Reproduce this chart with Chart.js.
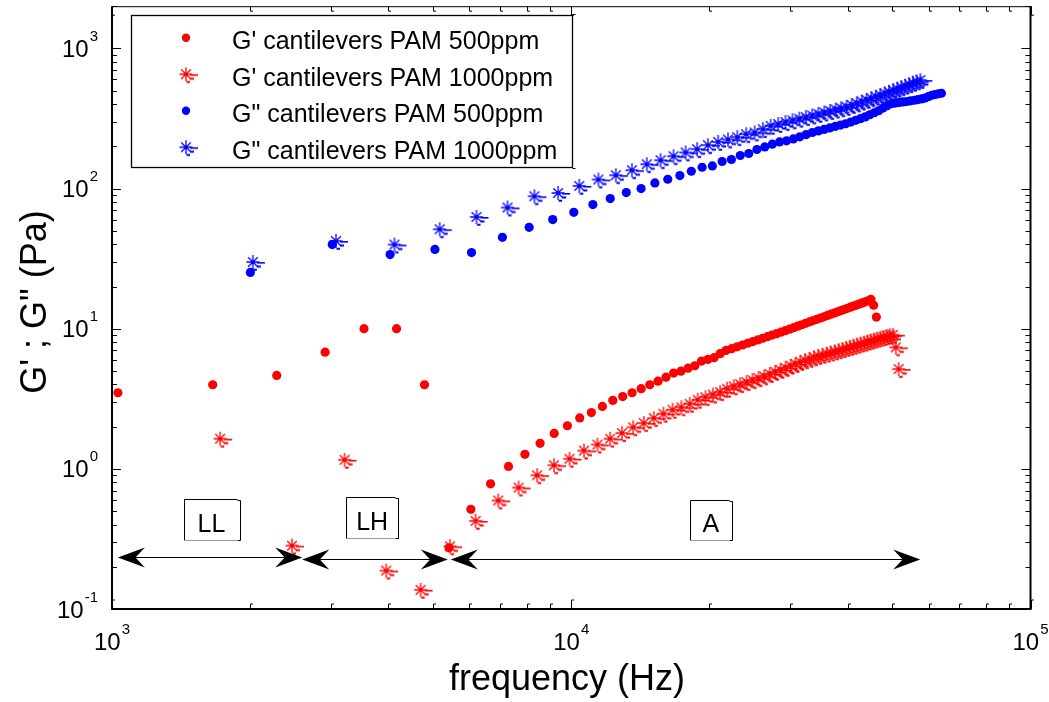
<!DOCTYPE html>
<html><head><meta charset="utf-8">
<style>html,body{margin:0;padding:0;background:#fff;}canvas{display:block;}</style>
<script src="https://cdn.jsdelivr.net/npm/chart.js@4.4.1/dist/chart.umd.min.js"></script>
</head><body>
<canvas id="c" width="1049" height="702" style="width:1049px;height:702px"></canvas>
<script>
// ---------------- data ----------------
const seriesNames = ["G' cantilevers PAM 500ppm", "G' cantilevers PAM 1000ppm", 'G" cantilevers PAM 500ppm', 'G" cantilevers PAM 1000ppm'];
const xTitle = 'frequency (Hz)';
const yTitle = 'G\' ; G" (Pa)';
const xTickExponents = [3, 4, 5];
const yTickExponents = [-1, 0, 1, 2, 3];

const freqGp500 = [1030,1657,2284,2911,3538,4165,4792,5419,6046,6673,7300,7927,8554,9181,9808,10435,11062,11689,12316,12943,13570,14197,14824,15451,16078,16705,17332,17959,18586,19213,19840,20467,21094,21721,22348,22975,23602,24229,24856,25483,26110,26737,27364,27991,28618,29245,29872,30499,31126,31753,32380,33007,33634,34261,34888,35515,36142,36769,37396,38023,38650,39277,39904,40531,41158,41785,42412,43039,43666,44293,44920,45547,46174];
const valGp500 = [3.49,3.98,4.64,6.80,10.0,10.0,3.98,0.273,
  0.514,0.782,1.04,1.27,1.52,1.79,2.03,2.31,
  2.52,2.79,3.08,3.28,3.49,3.73,3.98,4.22,
  4.51,4.82,4.98,5.23,5.44,5.87,6.04,6.21,6.63,7.0,
  7.2,7.43,7.65,7.87,8.09,8.31,8.54,8.77,9.0,9.22,9.45,9.68,
  9.92,10.17,10.42,10.67,10.92,11.17,11.42,11.67,11.92,12.17,
  12.43,12.69,12.94,13.2,13.45,13.71,13.97,14.23,14.49,14.75,
  15.01,15.28,15.54,15.8,16.2,14.7,12.1];

const freqGp1000 = [1720,2465,3210,3955,4700,5445,6190,6935,7680,8425,9170,9915,10660,11405,12150,12895,13640,14385,15130,15875,16620,17365,18110,18855,19600,20345,21090,21835,22580,23325,24070,24815,25560,26305,27050,27795,28540,29285,30030,30775,31520,32265,33010,33755,34500,35245,35990,36735,37480,38225,38970,39715,40460,41205,41950,42695,43440,44185,44930,45675,46420,47165,47910,48655,49400,50145,50890,51635];
const valGp1000 = [1.64,0.283,1.16,0.188,0.137,0.28,0.425,0.594,
  0.735,0.90,1.06,1.18,1.35,1.49,1.64,1.80,
  1.98,2.12,2.30,2.47,2.64,2.75,2.91,3.11,
  3.25,3.39,3.53,3.73,
  3.88,4.02,4.16,4.30,4.44,4.57,4.75,4.92,
  5.08,5.25,5.45,5.6,5.8,5.95,6.1,6.25,6.4,6.52,
  6.65,6.77,6.9,7.03,7.16,7.3,7.43,7.56,7.7,7.83,
  7.96,8.1,8.23,8.37,8.5,8.63,8.75,8.87,8.98,9.05,
  7.35,5.15];

const freqGpp500 = [2001,3017,4033,5049,6065,7081,8097,9113,10129,11145,12161,13177,14193,15209,16225,17241,18257,19273,20289,21305,22321,23337,24353,25369,26385,27401,28417,29433,30449,31465,32481,33497,34513,35529,36545,37561,38577,39593,40609,41625,42641,43657,44673,45689,46705,47721,48737,49753,50769,51785,52801,53817,54833,55849,56865,57881,58897,59913,60929,61945,62961,63977];
const valGpp500 = [25.2,39.8,33.8,36.8,34.9,44.9,52.9,60.1,
  67.7,76.9,84.8,93.6,100,109.6,116.5,123.8,
  132.9,141.9,145.0,155.9,161.1,172.1,177.8,189.9,198.2,207.2,215.2,
  219.1,226.1,234.0,242.7,251.2,257.9,264.3,270.5,277.3,283.8,
  289.9,298.1,306.5,315.2,324.6,336.0,347.3,358.9,375.2,390.3,
  402.7,407.4,411.5,414.9,418.0,422.4,426.6,431.5,435.8,442.3,
  452.6,463.2,468.6,474.0,478.6];

const freqGpp1000 = [2026,3074,4122,5170,6218,7266,8314,9362,10410,11458,12506,13554,14602,15650,16698,17746,18794,19842,20890,21938,22986,24034,25082,26130,27178,28226,29274,30322,31370,32418,33466,34514,35562,36610,37658,38706,39754,40802,41850,42898,43946,44994,46042,47090,48138,49186,50234,51282,52330,53378,54426,55474,56522,57570];
const valGpp1000 = [29.9,42.2,39.8,51.2,62.7,73.2,88.1,93.0,
  104.4,115.9,124.5,135.1,149.1,159.3,170.1,180.8,190.9,203.9,
  215.2,223.9,232.5,244.3,251.2,265.2,280.0,288.9,298.1,306.5,
  315.2,323.6,332.2,341.1,349.1,357.8,366.1,374.1,382.8,394.3,
  405.2,417.5,429.0,440.9,452.6,464.0,477.9,489.8,502.9,516.3,
  529.2,542.4,555.0,568.9,582.1,593.8];

// region annotations (data coordinates)
const regionLabels = ['LL', 'LH', 'A'];
const regionFreq = [1647, 3686, 20130];
const regionVal = [0.434, 0.449, 0.434];
const arrowStartFreq = [1030, 2596, 5467];
const arrowEndFreq = [2596, 5384, 57520];
const arrowVal = [0.2337, 0.2276, 0.2276];

// ---------------- styles ----------------
const FONT = '"Liberation Sans", Arial, Helvetica, sans-serif';
const RED = '#ff0000', BLUE = '#0000ff';
const regionBoxSize = [[55.5, 41], [51.7, 40.6], [42, 40.3]];

function makeStar(color) {
  const c = document.createElement('canvas');
  c.width = 30; c.height = 30;
  const g = c.getContext('2d');
  const cx = 15, cy = 15;
  g.strokeStyle = color;
  g.lineWidth = 1.3;
  g.beginPath();
  g.moveTo(cx, cy - 7); g.lineTo(cx, cy + 7);
  g.moveTo(cx - 6.5, cy); g.lineTo(cx + 6.5, cy);
  g.moveTo(cx - 4.8, cy - 4.8); g.lineTo(cx + 4.8, cy + 4.8);
  g.moveTo(cx + 4.8, cy - 4.8); g.lineTo(cx - 4.8, cy + 4.8);
  g.stroke();
  g.lineWidth = 1.6;
  g.beginPath(); g.moveTo(cx + 4, cy + 0.8); g.lineTo(cx + 12, cy + 0.8); g.stroke();
  g.lineWidth = 2;
  g.beginPath();
  g.moveTo(cx + 4, cy + 4.5); g.lineTo(cx + 8, cy + 4.5);
  g.moveTo(cx + 0.5, cy + 7.8); g.lineTo(cx + 4, cy + 7.8);
  g.stroke();
  return c;
}
const starRed = makeStar(RED), starBlue = makeStar(BLUE);

function toXY(fs, vs) { return fs.map((f, i) => ({ x: f, y: vs[i] })); }

const seriesStyle = [
  { style: 'circle', color: RED },
  { style: starRed, color: RED },
  { style: 'circle', color: BLUE },
  { style: starBlue, color: BLUE }
];

function drawPow(ctx, exp, x, yMid, align) {
  ctx.font = '24px ' + FONT;
  const w1 = ctx.measureText('10').width;
  ctx.font = '15px ' + FONT;
  const w2 = ctx.measureText(String(exp)).width;
  const total = w1 + 1 + w2;
  const x0 = align === 'center' ? x - total / 2 : x - total;
  ctx.textAlign = 'left';
  ctx.textBaseline = 'alphabetic';
  ctx.font = '24px ' + FONT;
  ctx.fillText('10', x0, yMid + 8.6);
  ctx.font = '15px ' + FONT;
  ctx.fillText(String(exp), x0 + w1 + 1, yMid - 12.8 + 5.4);
}

function arrowHead(ctx, x, y, dir) {
  const L = 27, H = 10;
  ctx.beginPath();
  ctx.moveTo(x, y);
  ctx.lineTo(x - dir * L, y - H);
  ctx.lineTo(x - dir * L * 0.65, y);
  ctx.lineTo(x - dir * L, y + H);
  ctx.closePath();
  ctx.fill();
}

const deco = {
  id: 'deco',
  afterDatasetsDraw(chart) {
    const ctx = chart.ctx, a = chart.chartArea, xs = chart.scales.x, ys = chart.scales.y;
    ctx.save();
    ctx.fillStyle = '#000'; ctx.strokeStyle = '#000';

    // arrows
    ctx.lineWidth = 1;
    for (let i = 0; i < arrowVal.length; i++) {
      const y = Math.round(ys.getPixelForValue(arrowVal[i])) + 0.5;
      const x1 = xs.getPixelForValue(arrowStartFreq[i]);
      const x2 = xs.getPixelForValue(arrowEndFreq[i]);
      ctx.beginPath(); ctx.moveTo(x1 + 5, y); ctx.lineTo(x2 - 5, y); ctx.stroke();
      arrowHead(ctx, x1, y, -1);
      arrowHead(ctx, x2, y, 1);
    }

    // region boxes
    for (let i = 0; i < regionLabels.length; i++) {
      const cx = xs.getPixelForValue(regionFreq[i]);
      const cy = ys.getPixelForValue(regionVal[i]);
      const [w, h] = regionBoxSize[i];
      const l = Math.round(cx - w / 2) + 0.5, t = Math.round(cy - h / 2) + 0.5;
      const r = l + Math.round(w), b = t + Math.round(h);
      ctx.fillStyle = '#fff';
      ctx.fillRect(l, t, r - l, b - t);
      ctx.lineWidth = 1;
      ctx.strokeStyle = '#000';
      ctx.beginPath();
      ctx.moveTo(l, b); ctx.lineTo(l, t); ctx.lineTo(r - 3, t);
      ctx.moveTo(r - 3, t + 1); ctx.lineTo(r, t + 1); ctx.lineTo(r, b); ctx.lineTo(r - 3, b);
      ctx.stroke();
      ctx.strokeStyle = '#999';
      ctx.beginPath(); ctx.moveTo(l, b); ctx.lineTo(r - 3, b); ctx.stroke();
      ctx.fillStyle = '#000';
      ctx.font = '25px ' + FONT;
      ctx.textAlign = 'center'; ctx.textBaseline = 'alphabetic';
      ctx.fillText(regionLabels[i], cx, cy + 3 + 9);
    }

    // frame
    ctx.strokeStyle = '#000';
    ctx.lineWidth = 1;
    ctx.beginPath(); ctx.moveTo(a.left, a.top + 0.5); ctx.lineTo(a.right, a.top + 0.5); ctx.stroke();
    ctx.lineWidth = 2;
    ctx.beginPath();
    ctx.moveTo(a.left, a.top); ctx.lineTo(a.left, a.bottom);
    ctx.lineTo(a.right, a.bottom); ctx.lineTo(a.right, a.top);
    ctx.stroke();

    // ticks
    ctx.lineWidth = 1;
    const xMaj = xTickExponents.map(e => Math.pow(10, e));
    const xMin = [];
    for (let d = 0; d < xMaj.length - 1; d++) for (let m = 2; m <= 9; m++) xMin.push(xMaj[d] * m);
    const yMaj = yTickExponents.map(e => Math.pow(10, e));
    const yMin = [];
    for (let d = 0; d < yMaj.length; d++) for (let m = 2; m <= 9; m++) { const v = yMaj[d] * m; if (v <= ys.max) yMin.push(v); }
    const xt = (v, len) => {
      const x = Math.round(xs.getPixelForValue(v)) + 0.5;
      ctx.beginPath();
      ctx.moveTo(x, a.bottom); ctx.lineTo(x, a.bottom - len); ctx.lineTo(x + 2.5, a.bottom - len);
      ctx.moveTo(x, a.top); ctx.lineTo(x, a.top + len); ctx.lineTo(x + 2.5, a.top + len);
      ctx.stroke();
    };
    const yt = (v, len) => {
      const y = Math.round(ys.getPixelForValue(v)) + 0.5;
      ctx.beginPath();
      ctx.moveTo(a.left, y); ctx.lineTo(a.left + len, y);
      ctx.moveTo(a.right, y); ctx.lineTo(a.right - len, y);
      ctx.stroke();
    };
    xMaj.forEach(v => xt(v, 9)); xMin.forEach(v => xt(v, 5));
    yMaj.forEach(v => yt(v, 9)); yMin.forEach(v => yt(v, 5));

    // tick labels
    ctx.fillStyle = '#000';
    xTickExponents.forEach(e => drawPow(ctx, e, xs.getPixelForValue(Math.pow(10, e)), a.bottom + 32.7, 'center'));
    yTickExponents.forEach(e => drawPow(ctx, e, a.left - 14, ys.getPixelForValue(Math.pow(10, e)), 'right'));

    // axis titles
    ctx.font = '36px ' + FONT;
    ctx.textAlign = 'center'; ctx.textBaseline = 'alphabetic';
    ctx.fillText(xTitle, 567, 690);
    ctx.save();
    ctx.translate(46, 302);
    ctx.rotate(-Math.PI / 2);
    ctx.fillText(yTitle, 0, 0);
    ctx.restore();

    // legend
    const lx = 131.5, ly = 15.5, lw = 441, lh = 152;
    ctx.fillStyle = '#fff';
    ctx.fillRect(lx, ly, lw, lh);
    ctx.strokeStyle = '#000'; ctx.lineWidth = 1.3;
    ctx.strokeRect(lx, ly, lw, lh);
    ctx.lineWidth = 1;
    ctx.beginPath();
    ctx.moveTo(lx + lw, ly - 1); ctx.lineTo(lx + lw + 3, ly - 1);
    ctx.moveTo(lx + lw, ly + lh + 1); ctx.lineTo(lx + lw + 3, ly + lh + 1);
    ctx.stroke();
    chart.data.datasets.forEach((ds, i) => {
      const ry = 37.7 + i * 36.5;
      const st = seriesStyle[i];
      if (st.style === 'circle') {
        ctx.fillStyle = st.color;
        ctx.beginPath(); ctx.arc(186, ry, 4.2, 0, Math.PI * 2); ctx.fill();
      } else {
        ctx.drawImage(st.style, 186 - st.style.width / 2, ry - st.style.height / 2);
      }
      ctx.fillStyle = '#000';
      ctx.font = '25px ' + FONT;
      ctx.textAlign = 'left'; ctx.textBaseline = 'alphabetic';
      ctx.fillText(ds.label, 232, ry + 11.6);
    });
    ctx.restore();
  }
};

const ctxc = document.getElementById('c').getContext('2d');
new Chart(ctxc, {
  type: 'scatter',
  data: {
    datasets: [
      { label: seriesNames[0], data: toXY(freqGp500, valGp500), pointStyle: 'circle', pointRadius: 4.6,
        pointBackgroundColor: RED, pointBorderColor: RED, pointBorderWidth: 0, showLine: false, order: 4 },
      { label: seriesNames[1], data: toXY(freqGp1000, valGp1000), pointStyle: starRed, pointRadius: 6,
        pointBackgroundColor: RED, pointBorderColor: RED, pointBorderWidth: 0, showLine: false, order: 3 },
      { label: seriesNames[2], data: toXY(freqGpp500, valGpp500), pointStyle: 'circle', pointRadius: 4.6,
        pointBackgroundColor: BLUE, pointBorderColor: BLUE, pointBorderWidth: 0, showLine: false, order: 2 },
      { label: seriesNames[3], data: toXY(freqGpp1000, valGpp1000), pointStyle: starBlue, pointRadius: 6,
        pointBackgroundColor: BLUE, pointBorderColor: BLUE, pointBorderWidth: 0, showLine: false, order: 1 }
    ]
  },
  options: {
    responsive: false,
    animation: false,
    devicePixelRatio: 1,
    events: [],
    layout: { padding: { left: 112, right: 18.5, top: 6.2, bottom: 93 } },
    plugins: { legend: { display: false }, tooltip: { enabled: false } },
    scales: {
      x: { type: 'logarithmic', min: 1000, max: 100000, display: false },
      y: { type: 'logarithmic', min: 0.1, max: 2000, display: false }
    }
  },
  plugins: [deco]
});
</script>
</body></html>
